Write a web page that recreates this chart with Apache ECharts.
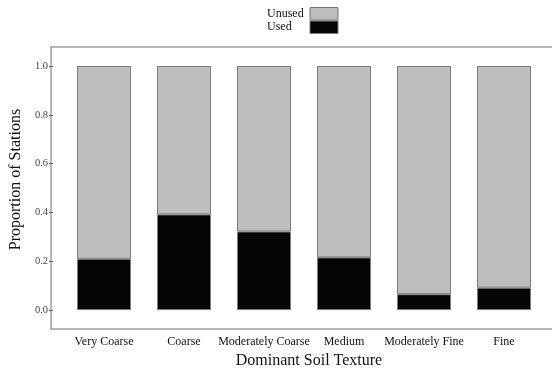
<!DOCTYPE html>
<html>
<head>
<meta charset="utf-8">
<script src="https://cdn.jsdelivr.net/npm/echarts@6/dist/echarts.min.js"></script>
<style>html,body{margin:0;padding:0;background:#fff}#c{width:552px;height:374px}</style>
</head>
<body>
<div id="c"></div>
<script>
const categories = ['Very Coarse', 'Coarse', 'Moderately Coarse', 'Medium', 'Moderately Fine', 'Fine'];
const usedValues = [0.21, 0.392, 0.322, 0.216, 0.065, 0.092];
const unusedValues = [0.79, 0.608, 0.678, 0.784, 0.935, 0.908];
const yTicks = [0, 0.2, 0.4, 0.6, 0.8, 1.0];

const serif = 'Liberation Serif, Times New Roman, serif';
const frameLine = {show: true, onZero: false, lineStyle: {color: '#a0a0a0', width: 1.5}};
const chart = echarts.init(document.getElementById('c'), null, {renderer: 'canvas'});
chart.setOption({
  animation: false,
  backgroundColor: '#fff',
  legend: {
    orient: 'vertical',
    left: 262, top: 2,
    align: 'right',
    itemWidth: 28, itemHeight: 12.5, itemGap: 0,
    data: [{name: 'Unused', icon: 'rect'}, {name: 'Used', icon: 'rect'}],
    formatter: '{a|{name}}',
    textStyle: {fontFamily: serif, fontSize: 12, color: '#111',
      rich: {a: {width: 38, align: 'left', fontFamily: serif, fontSize: 12, color: '#111'}}},
    itemStyle: {borderColor: '#777', borderWidth: 1}
  },
  grid: [
    {left: 62, right: 8, top: 66, bottom: 61},
    {left: 51, right: 0, top: 47, bottom: 45}
  ],
  xAxis: [
    {type: 'category', gridIndex: 0, data: categories,
      axisLine: {show: false}, axisTick: {show: false},
      axisLabel: {fontFamily: serif, fontSize: 12, color: '#111', margin: 26, interval: 0},
      name: 'Dominant Soil Texture', nameLocation: 'middle', nameGap: 37,
      nameTextStyle: {fontFamily: serif, fontSize: 16, color: '#111', padding: [0, 0, 0, 10]}},
    {type: 'value', gridIndex: 1, position: 'bottom', axisLine: frameLine,
      axisTick: {show: false}, axisLabel: {show: false}, splitLine: {show: false}},
    {type: 'value', gridIndex: 1, position: 'top', axisLine: frameLine,
      axisTick: {show: false}, axisLabel: {show: false}, splitLine: {show: false}}
  ],
  yAxis: [
    {type: 'value', gridIndex: 0, min: 0, max: 1, interval: 0.2, offset: 11,
      axisLine: {show: false},
      axisTick: {show: true, length: 4, lineStyle: {color: '#666'}, customValues: yTicks},
      axisLabel: {fontFamily: serif, fontSize: 10.5, color: '#444', margin: 5, customValues: yTicks,
        formatter: v => v.toFixed(1)},
      splitLine: {show: false},
      name: 'Proportion of Stations', nameLocation: 'middle', nameGap: 25,
      nameTextStyle: {fontFamily: serif, fontSize: 16, color: '#111', padding: [0, 0, 0, 17]}},
    {type: 'value', gridIndex: 1, position: 'left', axisLine: frameLine,
      axisTick: {show: false}, axisLabel: {show: false}, splitLine: {show: false}}
  ],
  series: [
    {name: 'Used', type: 'bar', stack: 'p', data: usedValues, barWidth: 54,
      itemStyle: {color: '#050505', borderColor: '#7a7a7a', borderWidth: 1}},
    {name: 'Unused', type: 'bar', stack: 'p', data: unusedValues, barWidth: 54,
      itemStyle: {color: '#bebebe', borderColor: '#7a7a7a', borderWidth: 1}}
  ]
});
</script>
</body>
</html>
